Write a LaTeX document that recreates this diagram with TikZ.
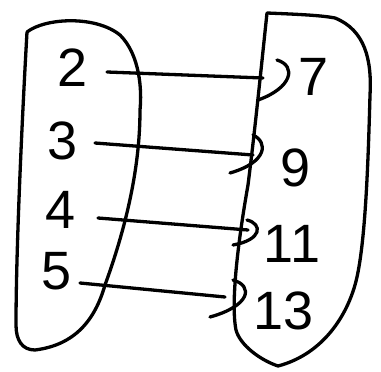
\documentclass[tikz,border=0pt]{standalone}
\usepackage{fontspec}
\setmainfont{Liberation Sans}
\begin{document}
\begin{tikzpicture}[x=1pt,y=-1pt,
  ink/.style={line width=3.3pt,line cap=round,line join=round,black},
  num/.style={font=\fontsize{54}{54}\selectfont,inner sep=0pt}]
\useasboundingbox (0,0) rectangle (381,372);
\fill[white] (0,0) rectangle (381,372);
% left set
\draw[ink] (27,32) .. controls (45,18) and (95,15) .. (120,35)
  .. controls (140,55) and (142,90) .. (140,110)
  .. controls (140,170) and (125,230) .. (105,285)
  .. controls (95,320) and (75,345) .. (35,350)
  .. controls (22,350) and (16,340) .. (16,325)
  .. controls (16,250) and (22,120) .. (27,32);
% right set
\draw[ink] (267,13) .. controls (290,14) and (320,15) .. (335,18)
  .. controls (365,30) and (372,60) .. (370,95)
  .. controls (368,170) and (365,250) .. (355,285)
  .. controls (345,320) and (320,355) .. (278,366)
  .. controls (260,360) and (240,345) .. (236,330)
  .. controls (230,300) and (240,230) .. (248,185)
  .. controls (255,130) and (262,60) .. (267,13);
% labels
\node[num] (a2) at (73,68) {2};
\node[num] (a3) at (63,141) {3};
\node[num] (a4) at (61,210) {4};
\node[num] (a5) at (57,271) {5};
\node[num] (b7) at (314,77) {7};
\node[num] (b9) at (296,168) {9};
\node[num] (b11) at (292,244) {11};
\node[num] (b13) at (284,311) {13};
% arrow end points
\coordinate (s2) at (107,72);  \coordinate (e7) at (263,78);
\coordinate (s3) at (95,143);  \coordinate (e9) at (253,155);
\coordinate (s4) at (98,218);  \coordinate (e11) at (248,230);
\coordinate (s5) at (80,283);  \coordinate (e13) at (225,297);
% maps
\draw[ink] (s2) -- (e7);
\draw[ink] (277,60) .. controls (297,66) and (292,88) .. (258,100);
\draw[ink] (s3) -- (e9);
\draw[ink] (253,135) .. controls (268,142) and (268,162) .. (230,173);
\draw[ink] (s4) -- (e11);
\draw[ink] (247,220) .. controls (263,224) and (262,240) .. (233,245);
\draw[ink] (s5) -- (e13);
\draw[ink] (233,280) .. controls (254,286) and (250,306) .. (210,317);
\end{tikzpicture}
\end{document}
